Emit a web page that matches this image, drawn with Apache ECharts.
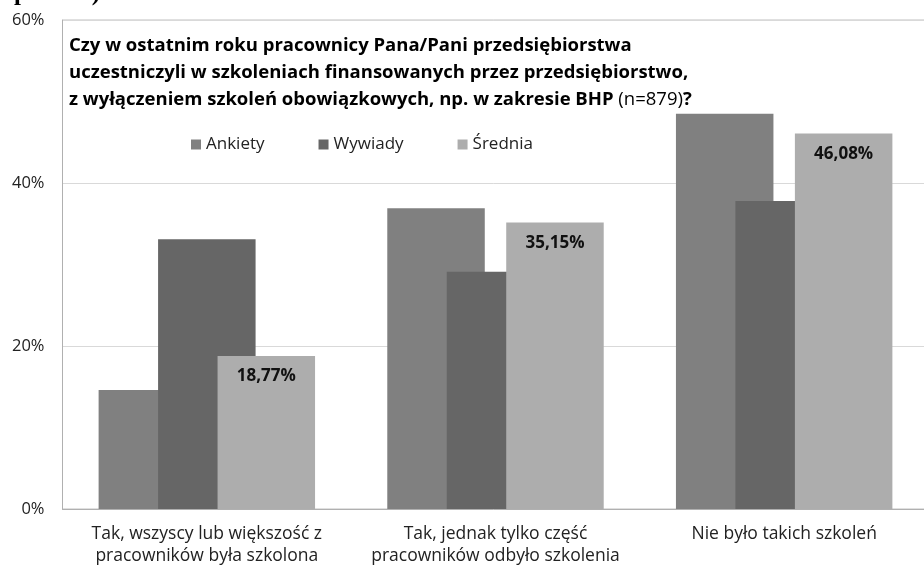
<!DOCTYPE html>
<html>
<head>
<meta charset="utf-8">
<script src="https://cdn.jsdelivr.net/npm/echarts@6/dist/echarts.min.js"></script>
<style>html,body{margin:0;padding:0;background:#fff;}#c{width:924px;height:567px;}</style>
</head>
<body>
<div id="c"></div>
<script>
const categories = ['Tak, wszyscy lub większość z\npracowników była szkolona', 'Tak, jednak tylko część\npracowników odbyło szkolenia', 'Nie było takich szkoleń'];
const seriesNames = ['Ankiety', 'Wywiady', 'Średnia'];
const ankiety = [14.6, 36.9, 48.5];
const wywiady = [33.1, 29.1, 37.8];
const srednia = [18.77, 35.15, 46.08];
const yTicks = [0, 20, 40, 60];

const FONT = '"Open Sans", "Noto Sans", sans-serif';
const chart = echarts.init(document.getElementById('c'), null, {renderer: 'canvas'});
chart.setOption({
  backgroundColor: '#ffffff',
  animation: false,
  title: {
    left: 69, top: 32, padding: 0,
    text: '{b|Czy w ostatnim roku pracownicy Pana/Pani przedsiębiorstwa}\n{b|uczestniczyli w szkoleniach finansowanych przez przedsiębiorstwo,}\n{b|z wyłączeniem szkoleń obowiązkowych, np. w zakresie BHP }{r|(n=879)}{b|?}',
    textStyle: {
      rich: {
        b: {fontFamily: FONT, fontWeight: 'bold', fontSize: 18.5, color: '#000', lineHeight: 27},
        r: {fontFamily: FONT, fontWeight: 'normal', fontSize: 18.5, color: '#000', lineHeight: 27}
      }
    }
  },
  graphic: [{
    type: 'text', left: 0, top: -19,
    style: {text: 'np. BHP)', font: 'bold 25px "Liberation Serif", serif', fill: '#000'}
  }],
  legend: {
    data: seriesNames,
    left: 191, top: 136, padding: 0,
    icon: 'rect', itemWidth: 10, itemHeight: 10, itemGap: 54,
    textStyle: {fontFamily: FONT, fontSize: 17, color: '#222'}
  },
  grid: {left: 62.5, top: 20, width: 866, height: 489, show: true, borderColor: '#c0c0c0', borderWidth: 1, outerBoundsMode: 'none', containLabel: false},
  xAxis: {
    type: 'category', data: categories,
    axisTick: {show: false},
    axisLine: {lineStyle: {color: '#b0b0b0'}},
    axisLabel: {fontFamily: FONT, fontSize: 17.5, color: '#222', lineHeight: 22, margin: 14, interval: 0}
  },
  yAxis: {
    type: 'value', min: yTicks[0], max: yTicks[yTicks.length - 1], interval: 20,
    axisLine: {show: true, lineStyle: {color: '#b0b0b0'}},
    axisTick: {show: false},
    splitLine: {lineStyle: {color: '#d9d9d9'}},
    axisLabel: {fontFamily: FONT, fontSize: 16.5, color: '#222', margin: 18, formatter: '{value}%'}
  },
  series: [
    {name: seriesNames[0], type: 'bar', data: ankiety, barWidth: 97.5, barGap: '-39%', itemStyle: {color: '#808080'}},
    {name: seriesNames[1], type: 'bar', data: wywiady, barWidth: 97.5, barGap: '-39%', itemStyle: {color: '#666666'}},
    {name: seriesNames[2], type: 'bar', data: srednia, barWidth: 97.5, barGap: '-39%', itemStyle: {color: '#adadad'},
      label: {show: true, position: 'insideTop', distance: 12, fontFamily: FONT, fontWeight: 'bold', fontSize: 17, color: '#111',
        formatter: p => p.value.toFixed(2).replace('.', ',') + '%'}}
  ]
});
</script>
</body>
</html>
